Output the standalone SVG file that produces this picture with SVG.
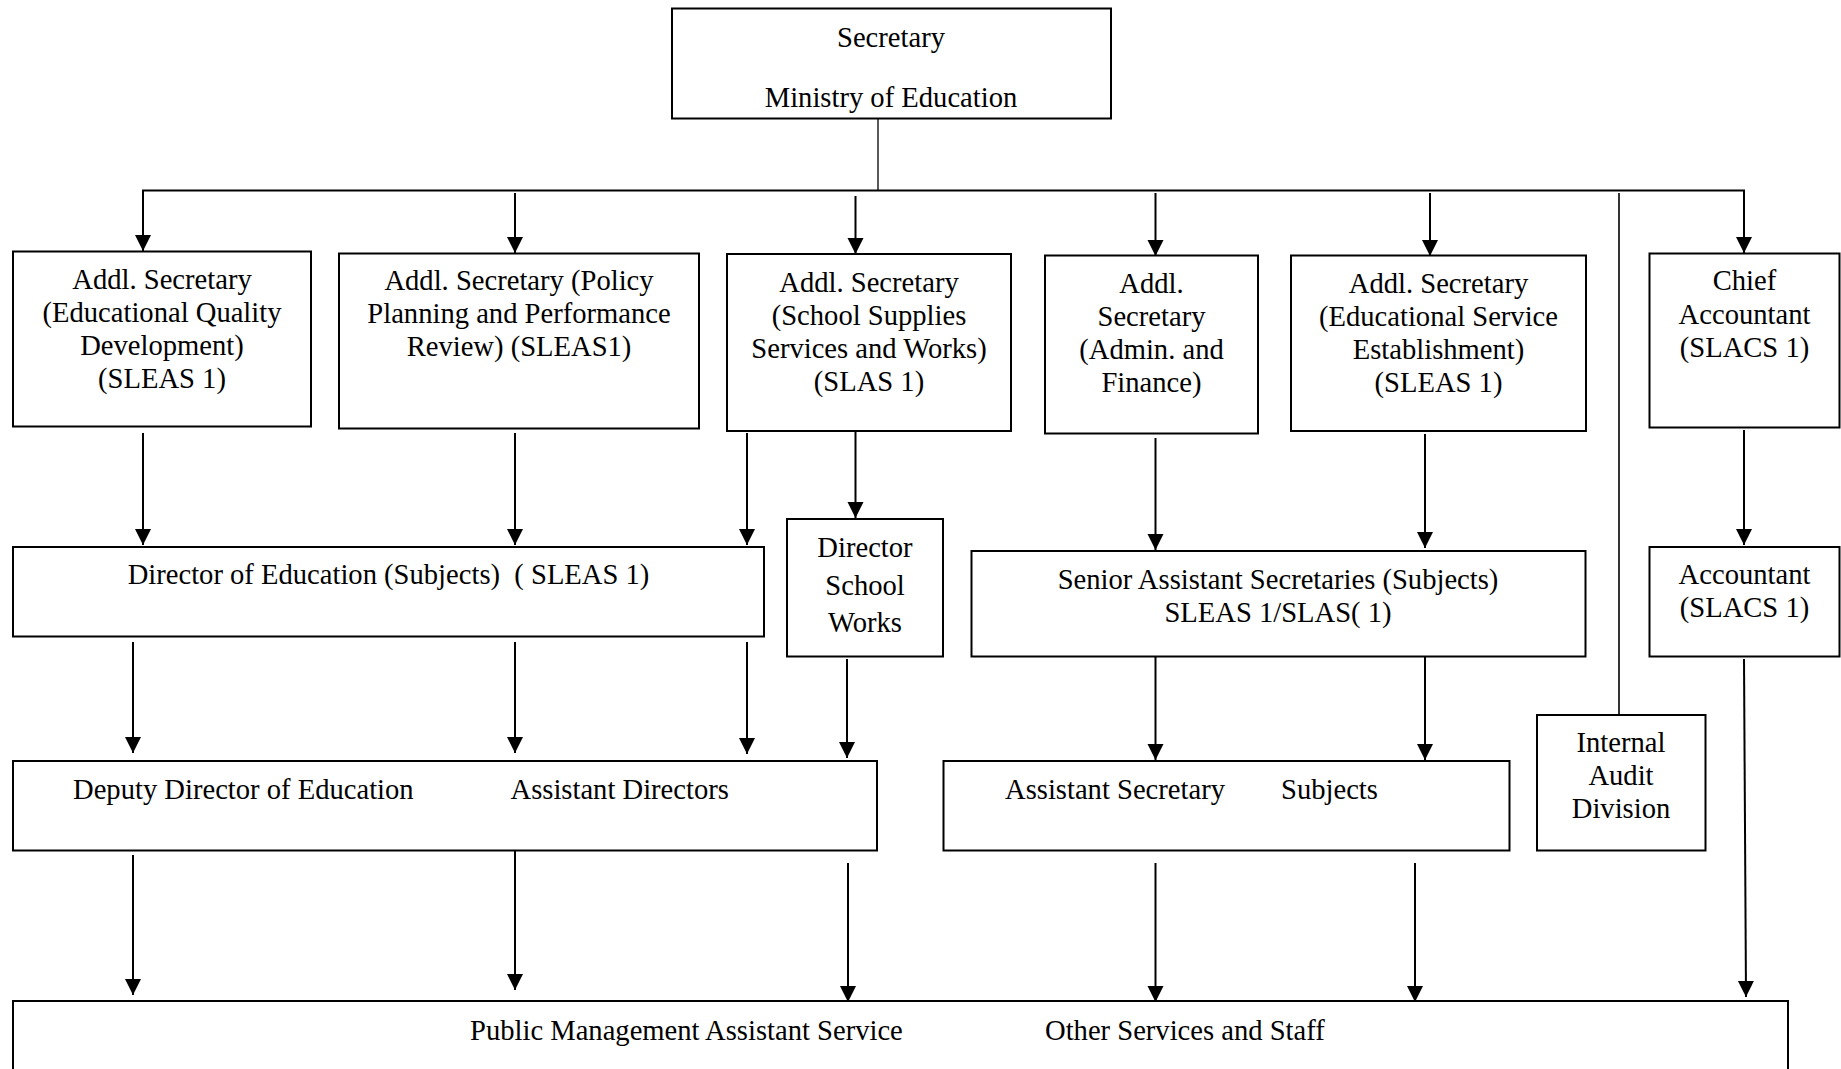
<svg xmlns="http://www.w3.org/2000/svg" width="1841" height="1069" viewBox="0 0 1841 1069">
<style>
.box{fill:#fff;stroke:#000;stroke-width:2}
.t{font-family:"Liberation Serif","Times New Roman",serif;font-size:28.6px;fill:#000}
.c{text-anchor:middle}
.ln{stroke:#000;stroke-width:2;fill:none}
.thin{stroke:#000;stroke-width:1.3;fill:none}
.ar{stroke:#000;stroke-width:2;fill:none;marker-end:url(#ah)}
</style>
<defs>
<marker id="ah" markerUnits="userSpaceOnUse" markerWidth="16" markerHeight="18" viewBox="0 0 16 18" refX="16" refY="8" orient="auto">
<path d="M0,0 L16,8 L0,16 Z" fill="#000"/>
</marker>
</defs>
<rect x="0" y="0" width="1841" height="1069" fill="#fff"/>
<g id="connectors">
<line class="thin" x1="878" y1="119" x2="878" y2="191"/>
<line class="ln" x1="142" y1="190.5" x2="1745" y2="190.5"/>
<line class="ar" x1="143" y1="190.5" x2="143" y2="251"/>
<line class="ar" x1="515" y1="193" x2="515" y2="253"/>
<line class="ar" x1="855.5" y1="196" x2="855.5" y2="254"/>
<line class="ar" x1="1155.5" y1="193" x2="1155.5" y2="256"/>
<line class="ar" x1="1430" y1="193" x2="1430" y2="256"/>
<line class="ar" x1="1744" y1="190.5" x2="1744" y2="253"/>
<line class="ln" x1="1619" y1="193" x2="1619" y2="715" style="stroke-width:1.6"/>
<line class="ar" x1="143" y1="433" x2="143" y2="545"/>
<line class="ar" x1="515" y1="433" x2="515" y2="545"/>
<line class="ar" x1="747" y1="433" x2="747" y2="545"/>
<line class="ar" x1="855.5" y1="432" x2="855.5" y2="518"/>
<line class="ar" x1="1155.5" y1="438" x2="1155.5" y2="550"/>
<line class="ar" x1="1425" y1="434" x2="1425" y2="548"/>
<line class="ar" x1="1744" y1="430" x2="1744" y2="545"/>
<line class="ar" x1="133" y1="642" x2="133" y2="753"/>
<line class="ar" x1="515" y1="642" x2="515" y2="753"/>
<line class="ar" x1="747" y1="642" x2="747" y2="754"/>
<line class="ar" x1="847" y1="659" x2="847" y2="758"/>
<line class="ar" x1="1155.5" y1="657" x2="1155.5" y2="760"/>
<line class="ar" x1="1425" y1="657" x2="1425" y2="760"/>
<line class="ar" x1="133" y1="855" x2="133" y2="995"/>
<line class="ar" x1="515" y1="851" x2="515" y2="990"/>
<line class="ar" x1="848" y1="863" x2="848" y2="1002"/>
<line class="ar" x1="1155.5" y1="863" x2="1155.5" y2="1002"/>
<line class="ar" x1="1415" y1="863" x2="1415" y2="1002"/>
<line class="ar" x1="1744" y1="659" x2="1746" y2="997"/>
</g>
<g id="secretary">
<rect class="box" x="672" y="8.5" width="439" height="110"/>
<text class="t c" x="891" y="46.5">Secretary</text>
<text class="t c" x="891" y="106.5">Ministry of Education</text>
</g>
<g id="addl-quality">
<rect class="box" x="13" y="251.5" width="298" height="175"/>
<text class="t c" x="162" y="289">Addl. Secretary</text>
<text class="t c" x="162" y="322">(Educational Quality</text>
<text class="t c" x="162" y="355">Development)</text>
<text class="t c" x="162" y="388">(SLEAS 1)</text>
</g>
<g id="addl-policy">
<rect class="box" x="339" y="253.5" width="360" height="175"/>
<text class="t c" x="519" y="290">Addl. Secretary (Policy</text>
<text class="t c" x="519" y="323">Planning and Performance</text>
<text class="t c" x="519" y="356">Review) (SLEAS1)</text>
</g>
<g id="addl-supplies">
<rect class="box" x="727" y="254" width="284" height="177"/>
<text class="t c" x="869" y="291.5">Addl. Secretary</text>
<text class="t c" x="869" y="324.5">(School Supplies</text>
<text class="t c" x="869" y="357.5">Services and Works)</text>
<text class="t c" x="869" y="390.5">(SLAS 1)</text>
</g>
<g id="addl-admin">
<rect class="box" x="1045" y="255.5" width="213" height="178"/>
<text class="t c" x="1151.5" y="292.5">Addl.</text>
<text class="t c" x="1151.5" y="325.5">Secretary</text>
<text class="t c" x="1151.5" y="358.5">(Admin. and</text>
<text class="t c" x="1151.5" y="391.5">Finance)</text>
</g>
<g id="addl-establishment">
<rect class="box" x="1291" y="255.5" width="295" height="175.5"/>
<text class="t c" x="1438.5" y="292.5">Addl. Secretary</text>
<text class="t c" x="1438.5" y="325.5">(Educational Service</text>
<text class="t c" x="1438.5" y="358.5">Establishment)</text>
<text class="t c" x="1438.5" y="391.5">(SLEAS 1)</text>
</g>
<g id="chief-accountant">
<rect class="box" x="1649.5" y="253.5" width="190" height="174"/>
<text class="t c" x="1744.5" y="290">Chief</text>
<text class="t c" x="1744.5" y="324">Accountant</text>
<text class="t c" x="1744.5" y="357">(SLACS 1)</text>
</g>
<g id="director-education">
<rect class="box" x="13" y="547" width="751" height="89.5"/>
<text class="t c" x="388.5" y="583.5" xml:space="preserve">Director of Education (Subjects)  ( SLEAS 1)</text>
</g>
<g id="director-school-works">
<rect class="box" x="787" y="519" width="156" height="137.5"/>
<text class="t c" x="865" y="556.5">Director</text>
<text class="t c" x="865" y="594.5">School</text>
<text class="t c" x="865" y="631.5">Works</text>
</g>
<g id="senior-assistant">
<rect class="box" x="971.5" y="551" width="614" height="105.5"/>
<text class="t c" x="1278" y="588.5">Senior Assistant Secretaries (Subjects)</text>
<text class="t c" x="1278" y="621.5">SLEAS 1/SLAS( 1)</text>
</g>
<g id="accountant">
<rect class="box" x="1649.5" y="547" width="190" height="109.5"/>
<text class="t c" x="1744.5" y="583.5">Accountant</text>
<text class="t c" x="1744.5" y="616.5">(SLACS 1)</text>
</g>
<g id="deputy-director">
<rect class="box" x="13" y="761" width="864" height="89.5"/>
<text class="t" x="73" y="798.5">Deputy Director of Education</text>
<text class="t" x="510.5" y="798.5">Assistant Directors</text>
</g>
<g id="assistant-secretary">
<rect class="box" x="943.5" y="761" width="566" height="89.5"/>
<text class="t" x="1005" y="798.5">Assistant Secretary</text>
<text class="t" x="1281" y="798.5">Subjects</text>
</g>
<g id="internal-audit">
<rect class="box" x="1537" y="715" width="168.5" height="135.5"/>
<text class="t c" x="1621" y="751.5">Internal</text>
<text class="t c" x="1621" y="784.5">Audit</text>
<text class="t c" x="1621" y="817.5">Division</text>
</g>
<g id="services-staff">
<rect class="box" x="13" y="1001" width="1775" height="90"/>
<text class="t" x="470" y="1039.5">Public Management Assistant Service</text>
<text class="t" x="1045" y="1039.5">Other Services and Staff</text>
</g>
</svg>
